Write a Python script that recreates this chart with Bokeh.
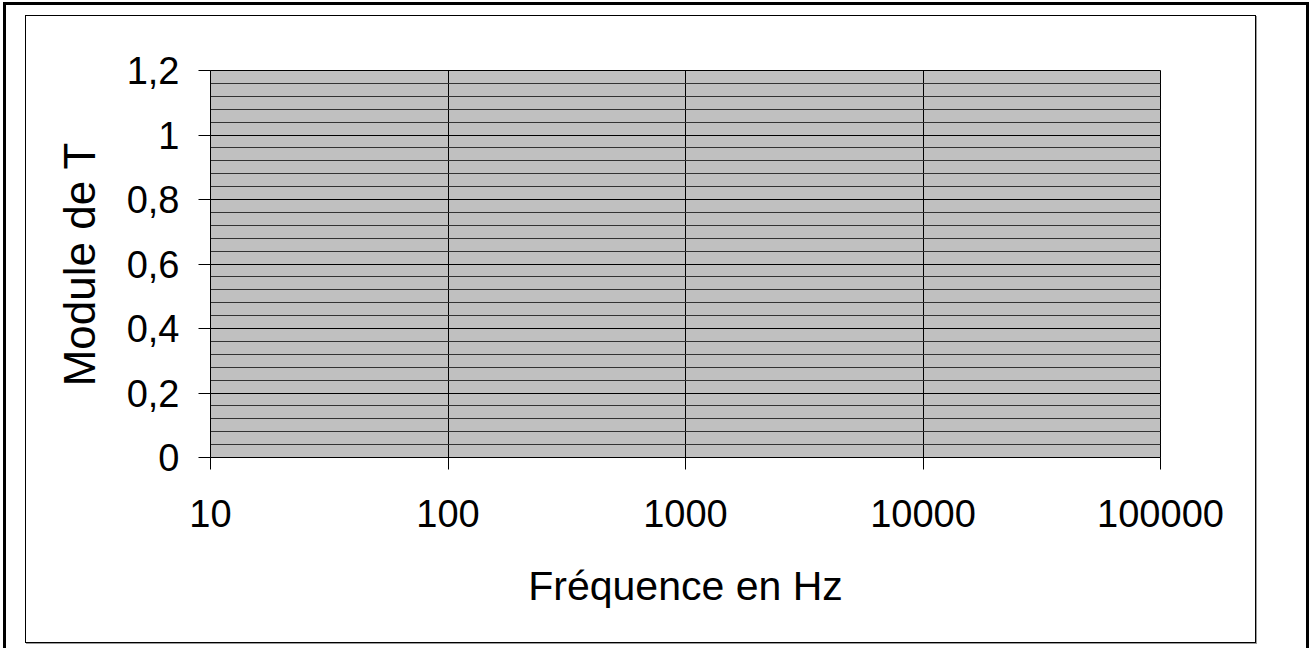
from bokeh.plotting import figure
from bokeh.models import FixedTicker, Range1d, InlineStyleSheet
from bokeh.embed import file_html
from bokeh.resources import INLINE

# --- data (empty chart: only axes) ---
x_ticks = [10, 100, 1000, 10000, 100000]
x_tick_labels = ["10", "100", "1000", "10000", "100000"]
y_ticks = [0, 0.2, 0.4, 0.6, 0.8, 1.0, 1.2]
y_tick_labels = ["0", "0,2", "0,4", "0,6", "0,8", "1", "1,2"]
y_minor = [round(i * 0.04, 2) for i in range(31)]
x_title = "Fréquence en Hz"
y_title = "Module de T"

FONT = "Liberation Sans"
W, H = 1312, 648

p = figure(width=W, height=H, x_axis_type="log",
           x_range=Range1d(x_ticks[0], x_ticks[-1]),
           y_range=Range1d(y_ticks[0], y_ticks[-1]),
           output_backend="svg", toolbar_location=None,
           min_border_left=210, min_border_right=W - 1160,
           min_border_top=70, min_border_bottom=H - 457)

p.background_fill_color = "#C0C0C0"
p.border_fill_color = "white"
p.outline_line_color = "black"
p.outline_line_width = 1

# axes
p.xaxis.ticker = FixedTicker(ticks=x_ticks, minor_ticks=[])
p.xaxis.major_label_overrides = {t: l for t, l in zip(x_ticks, x_tick_labels)}
p.yaxis.ticker = FixedTicker(ticks=y_ticks, minor_ticks=y_minor)
p.yaxis.major_label_overrides = {t: l for t, l in zip(y_ticks, y_tick_labels)}

for ax in (p.xaxis[0], p.yaxis[0]):
    ax.axis_line_color = "black"
    ax.major_tick_line_color = "black"
    ax.major_tick_out = 12
    ax.major_tick_in = 0
    ax.minor_tick_out = 0
    ax.minor_tick_in = 0
    ax.major_label_text_font = FONT
    ax.major_label_text_font_size = "38px"
    ax.major_label_text_color = "black"
    ax.axis_label_text_font = FONT
    ax.axis_label_text_font_style = "normal"
    ax.axis_label_text_color = "black"

p.xaxis.axis_label = x_title
p.yaxis.axis_label = y_title
p.xaxis.axis_label_text_font_size = "41px"
p.yaxis.axis_label_text_font_size = "44px"
p.xaxis.major_label_standoff = 30
p.xaxis.axis_label_standoff = 33
p.yaxis.major_label_standoff = 19
p.yaxis.axis_label_standoff = 20

# grid
p.xgrid.grid_line_color = "black"
p.xgrid.grid_line_width = 1
p.ygrid.grid_line_color = "black"
p.ygrid.grid_line_width = 1
p.ygrid.minor_grid_line_color = "#333333"
p.ygrid.minor_grid_line_width = 1

# frames around the chart area (page decoration)
css = """
:host::before {
  content: ""; position: absolute; pointer-events: none; z-index: 20;
  left: 3px; top: 2px; width: 1306px; height: 700px;
  border: 3px solid black; box-sizing: border-box;
}
:host::after {
  content: ""; position: absolute; pointer-events: none; z-index: 21;
  left: 25px; top: 15px; width: 1231px; height: 628px;
  border: 1px solid black; box-sizing: border-box;
  box-shadow: 1px 1px 0 #9a9a9a;
}
:host { overflow: hidden; }
"""
p.stylesheets = [InlineStyleSheet(css=css)]

open("out.html", "w").write(file_html(p, INLINE))
